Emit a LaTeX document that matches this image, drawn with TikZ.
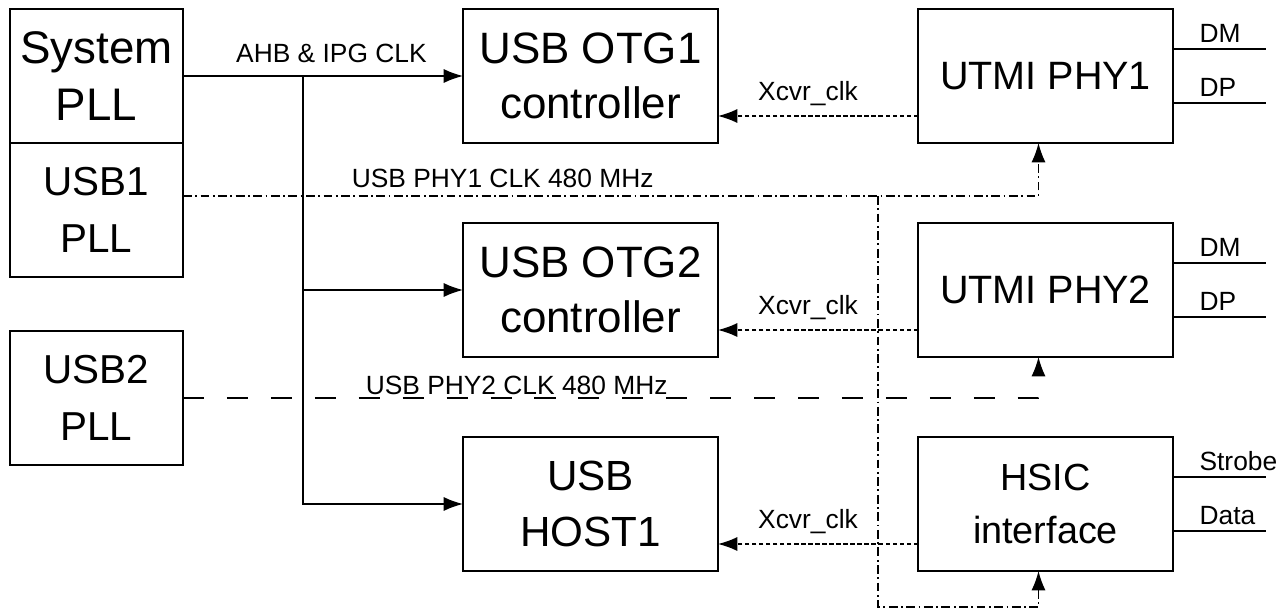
\documentclass[tikz,border=0pt]{standalone}
\usepackage{fontspec}
\setmainfont{Liberation Sans}
\usetikzlibrary{arrows.meta, positioning, calc}

\begin{document}
\begin{tikzpicture}[
    >={Latex[length=11pt,width=8pt]},
    line width = 0.8pt,
    node distance = 1.6cm,
    ]

    \tikzstyle{block}=[
    draw = black,
    line width = 1.1pt,
    inner sep = 0pt,
    outer sep = 0pt,
    minimum width = 5.1cm,
    minimum height = 2.68cm,
    align = center,
    font = \fontsize{25}{31}\selectfont,
    ]
    \tikzstyle{pll}=[block, minimum width = 3.46cm]
    \tikzstyle{lbl}=[font = \fontsize{15}{17}\selectfont]
    \tikzstyle{xcvr}=[->, dash pattern = on 2.5pt off 1.5pt]
    \tikzstyle{clkone}=[->, dash pattern = on 5pt off 2pt on 1pt off 2pt]
    \tikzstyle{clktwo}=[->, dash pattern = on 12pt off 13pt]

    \useasboundingbox (0,0) rectangle (25.66,-12.3);

    % clock sources
    \node[pll, font=\fontsize{26}{32}\selectfont] (sys) at (1.93,-1.52) {System\\PLL};
    \node[pll, font=\fontsize{23}{32}\selectfont] (usb1) [below=0pt of sys] {USB1\\PLL};
    \node[pll, font=\fontsize{23}{32}\selectfont] (usb2) [below=1.08cm of usb1] {USB2\\PLL};

    % controllers
    \node[block] (otg1) [right=5.6cm of sys] {USB OTG1\\controller};
    \node[block] (otg2) [below of=otg1, yshift=-2.68cm] {USB OTG2\\controller};
    \node[block, font=\fontsize{24}{32}\selectfont] (host) [below of=otg2, yshift=-2.68cm] {USB\\HOST1};

    % phys
    \node[block, font=\fontsize{22.5}{28}\selectfont] (phy1) [right=4cm of otg1] {UTMI PHY1};
    \node[block, font=\fontsize{22.5}{28}\selectfont] (phy2) [right=4cm of otg2] {UTMI PHY2};
    \node[block, font=\fontsize{21.5}{30}\selectfont] (hsic) [right=4cm of host] {HSIC\\interface};

    % AHB & IPG clock
    \draw[->] (sys) -- node[lbl, above, pos=0.53, yshift=4pt] {AHB \& IPG CLK} (otg1);
    \coordinate (br) at ($(sys.east)+(2.4,0)$);
    \draw[->] (br) |- (otg2.west);
    \draw[->] (br) |- (host.west);

    % USB PHY1 clock
    \coordinate (c1) at ($(usb1.east)+(0,0.28)$);
    \coordinate (j1) at ($(c1 -| phy1.west)+(-0.8,0)$);
    \coordinate (p1in) at ($(phy1.south)+(-0.14,0)$);
    \coordinate (hin) at ($(hsic.south)+(-0.14,0)$);
    \coordinate (hb) at ($(hin)+(0,-0.72)$);
    \draw[clkone] (c1) -- node[lbl, above, pos=0.46, yshift=1pt] {USB PHY1 CLK 480 MHz} (j1) -| (p1in);
    \draw[clkone] (j1) |- (hb) -- (hin);

    % USB PHY2 clock
    \coordinate (p2in) at ($(phy2.south)+(-0.14,0)$);
    \draw[clktwo] (usb2.east) -- node[lbl, above, pos=0.39, inner sep=1.5pt] {USB PHY2 CLK 480 MHz} (usb2.east -| p2in) -- (p2in);

    % transceiver clocks
    \draw[xcvr] ($(phy1.west)+(0,-0.8)$) -- node[lbl, above, pos=0.55, yshift=2pt] {Xcvr\_clk} ($(otg1.east)+(0,-0.8)$);
    \draw[xcvr] ($(phy2.west)+(0,-0.8)$) -- node[lbl, above, pos=0.55, yshift=2pt] {Xcvr\_clk} ($(otg2.east)+(0,-0.8)$);
    \draw[xcvr] ($(hsic.west)+(0,-0.8)$) -- node[lbl, above, pos=0.55, yshift=2pt] {Xcvr\_clk} ($(host.east)+(0,-0.8)$);

    % external signals
    \foreach \b/\ta/\tb in {phy1/DM/DP, phy2/DM/DP, hsic/Strobe/Data}{
        \draw ($(\b.east)+(0,0.54)$) -- ++(1.86,0) coordinate (\b-a);
        \draw ($(\b.east)+(0,-0.54)$) -- ++(1.86,0) coordinate (\b-b);
        \node[lbl, anchor=south west] at ($(\b.east)+(0.4,0.54)$) {\ta};
        \node[lbl, anchor=south west] at ($(\b.east)+(0.4,-0.54)$) {\tb};
    }
\end{tikzpicture}
\end{document}
